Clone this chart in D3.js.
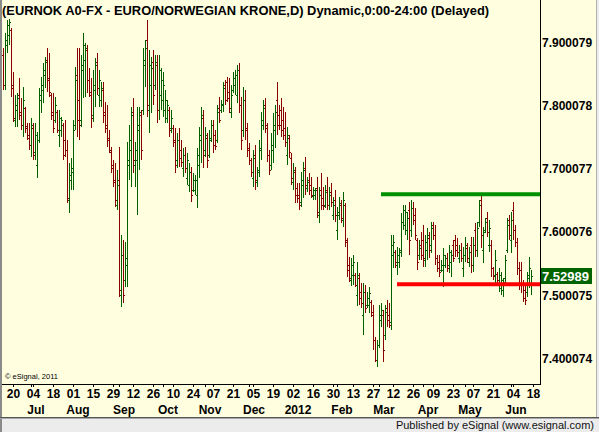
<!DOCTYPE html>
<html>
<head>
<meta charset="utf-8">
<style>
body { margin: 0; background: #ececec; }
svg { display: block; }
text { font-family: "Liberation Sans", Arial, sans-serif; }
</style>
</head>
<body>
<svg width="599" height="432"></svg>
<script src="https://cdnjs.cloudflare.com/ajax/libs/d3/7.8.5/d3.min.js"></script>
<script>

// EUR/NOK daily bars, first bar on 2011-06-13, one bar per weekday
var firstDay = "2011-06-13";

var open = [7.880,7.833,7.896,7.912,7.920,7.833,7.777,7.793,7.817,7.790,
7.769,7.796,7.768,7.754,7.738,7.765,7.727,7.706,7.746,7.809,
7.825,7.849,7.872,7.844,7.817,7.790,7.777,7.790,7.754,7.762,
7.769,7.746,7.730,7.651,7.682,7.695,7.769,7.849,7.809,7.777,
7.856,7.872,7.888,7.841,7.817,7.785,7.825,7.869,7.817,7.809,
7.825,7.790,7.769,7.749,7.727,7.706,7.682,7.643,7.682,7.500,
7.564,7.524,7.548,7.706,7.730,7.790,7.706,7.714,7.762,7.785,
7.793,7.864,7.904,7.793,7.833,7.869,7.833,7.864,7.793,7.817,
7.809,7.793,7.780,7.793,7.765,7.765,7.746,7.714,7.746,7.730,
7.701,7.722,7.685,7.675,7.695,7.667,7.667,7.659,7.706,7.746,
7.780,7.730,7.749,7.722,7.749,7.769,7.754,7.746,7.796,7.793,
7.801,7.833,7.837,7.822,7.790,7.825,7.833,7.817,7.856,7.801,
7.762,7.809,7.765,7.733,7.714,7.685,7.722,7.679,7.698,7.730,
7.769,7.801,7.765,7.722,7.706,7.730,7.762,7.809,7.785,7.793,
7.777,7.765,7.722,7.749,7.717,7.679,7.695,7.670,7.659,7.648,
7.675,7.701,7.670,7.682,7.675,7.657,7.659,7.670,7.627,7.667,
7.654,7.643,7.667,7.643,7.663,7.627,7.651,7.603,7.627,7.643,
7.619,7.643,7.584,7.548,7.524,7.532,7.532,7.500,7.527,7.505,
7.469,7.505,7.485,7.485,7.489,7.469,7.429,7.398,7.421,7.461,
7.469,7.437,7.480,7.469,7.458,7.564,7.568,7.548,7.553,7.572,
7.616,7.611,7.603,7.635,7.603,7.638,7.627,7.588,7.564,7.580,
7.588,7.556,7.572,7.591,7.580,7.611,7.595,7.559,7.553,7.540,
7.540,7.548,7.559,7.548,7.553,7.580,7.588,7.580,7.559,7.572,
7.543,7.564,7.575,7.553,7.580,7.548,7.603,7.572,7.616,7.651,
7.572,7.603,7.622,7.580,7.580,7.543,7.532,7.534,7.516,7.511,
7.508,7.527,7.572,7.619,7.588,7.635,7.603,7.584,7.543,7.540,
7.516,7.508,7.505,7.532,7.516];

var high = [7.891,7.915,7.936,7.937,7.923,7.853,7.817,7.820,7.844,7.812,
7.830,7.798,7.772,7.772,7.780,7.772,7.772,7.758,7.828,7.845,
7.867,7.877,7.891,7.883,7.820,7.820,7.814,7.793,7.793,7.782,
7.772,7.777,7.746,7.709,7.717,7.777,7.861,7.891,7.891,7.880,
7.915,7.899,7.896,7.860,7.844,7.856,7.875,7.883,7.856,7.837,
7.837,7.806,7.801,7.762,7.735,7.714,7.709,7.698,7.735,7.595,
7.588,7.584,7.742,7.769,7.798,7.812,7.742,7.798,7.798,7.793,
7.891,7.904,7.936,7.888,7.877,7.888,7.880,7.880,7.880,7.860,
7.853,7.825,7.809,7.798,7.793,7.769,7.765,7.757,7.765,7.746,
7.733,7.735,7.725,7.709,7.703,7.693,7.690,7.733,7.766,7.798,
7.793,7.766,7.757,7.762,7.777,7.777,7.762,7.801,7.814,7.809,
7.837,7.841,7.845,7.844,7.833,7.853,7.856,7.864,7.867,7.814,
7.830,7.825,7.772,7.741,7.717,7.730,7.738,7.703,7.746,7.790,
7.809,7.812,7.772,7.730,7.757,7.788,7.801,7.837,7.801,7.812,
7.798,7.790,7.766,7.754,7.725,7.709,7.703,7.677,7.677,7.695,
7.711,7.719,7.687,7.693,7.687,7.671,7.670,7.687,7.671,7.693,
7.671,7.674,7.687,7.671,7.677,7.655,7.667,7.640,7.655,7.651,
7.663,7.646,7.591,7.561,7.559,7.564,7.535,7.553,7.535,7.519,
7.519,7.516,7.505,7.513,7.493,7.485,7.434,7.429,7.485,7.488,
7.477,7.485,7.493,7.488,7.595,7.595,7.572,7.576,7.575,7.630,
7.643,7.643,7.632,7.648,7.651,7.648,7.638,7.591,7.588,7.600,
7.611,7.595,7.606,7.600,7.616,7.616,7.611,7.564,7.564,7.556,
7.575,7.564,7.567,7.580,7.572,7.588,7.595,7.591,7.580,7.583,
7.576,7.592,7.583,7.576,7.592,7.592,7.614,7.616,7.651,7.660,
7.608,7.622,7.632,7.619,7.588,7.545,7.572,7.537,7.543,7.537,
7.527,7.564,7.622,7.627,7.632,7.648,7.611,7.591,7.553,7.553,
7.524,7.519,7.537,7.561,7.540];

var low = [7.825,7.825,7.883,7.896,7.814,7.774,7.766,7.766,7.777,7.762,
7.750,7.757,7.746,7.730,7.719,7.714,7.714,7.685,7.741,7.788,
7.804,7.828,7.822,7.814,7.777,7.757,7.772,7.757,7.735,7.750,
7.714,7.719,7.646,7.630,7.667,7.667,7.762,7.750,7.746,7.766,
7.812,7.814,7.820,7.814,7.765,7.774,7.798,7.817,7.798,7.798,
7.772,7.757,7.735,7.725,7.693,7.671,7.640,7.635,7.497,7.481,
7.488,7.513,7.513,7.682,7.671,7.693,7.671,7.627,7.698,7.714,
7.785,7.830,7.782,7.757,7.788,7.801,7.825,7.772,7.777,7.793,
7.782,7.772,7.772,7.750,7.757,7.735,7.693,7.701,7.703,7.703,
7.687,7.693,7.675,7.663,7.648,7.663,7.659,7.638,7.685,7.709,
7.701,7.719,7.701,7.717,7.742,7.725,7.730,7.741,7.772,7.788,
7.790,7.801,7.806,7.788,7.780,7.820,7.817,7.804,7.788,7.730,
7.750,7.746,7.719,7.706,7.687,7.671,7.667,7.671,7.687,7.714,
7.762,7.757,7.711,7.690,7.698,7.709,7.733,7.754,7.762,7.750,
7.746,7.735,7.706,7.717,7.675,7.667,7.646,7.646,7.635,7.640,
7.654,7.659,7.663,7.659,7.654,7.651,7.651,7.622,7.614,7.635,
7.635,7.638,7.635,7.635,7.640,7.619,7.616,7.588,7.619,7.614,
7.608,7.576,7.529,7.521,7.515,7.516,7.513,7.483,7.485,7.480,
7.437,7.472,7.480,7.472,7.466,7.414,7.394,7.387,7.417,7.450,
7.394,7.429,7.450,7.448,7.445,7.543,7.543,7.532,7.543,7.561,
7.603,7.595,7.588,7.564,7.592,7.611,7.588,7.540,7.556,7.556,
7.545,7.545,7.556,7.559,7.567,7.588,7.548,7.537,7.529,7.537,
7.513,7.543,7.537,7.535,7.529,7.553,7.561,7.561,7.551,7.553,
7.529,7.553,7.551,7.545,7.535,7.537,7.561,7.561,7.608,7.575,
7.551,7.598,7.592,7.569,7.529,7.524,7.516,7.519,7.505,7.500,
7.497,7.519,7.567,7.588,7.567,7.588,7.576,7.532,7.508,7.503,
7.489,7.485,7.497,7.511,7.500];

var close = [7.833,7.904,7.928,7.932,7.828,7.780,7.801,7.812,7.785,7.769,
7.809,7.765,7.749,7.738,7.769,7.722,7.754,7.746,7.817,7.833,
7.856,7.869,7.841,7.822,7.785,7.765,7.801,7.762,7.780,7.777,
7.722,7.730,7.654,7.690,7.701,7.762,7.841,7.777,7.769,7.864,
7.896,7.891,7.841,7.822,7.780,7.833,7.864,7.828,7.841,7.828,
7.785,7.765,7.746,7.730,7.701,7.679,7.651,7.675,7.508,7.564,
7.500,7.559,7.714,7.746,7.785,7.714,7.730,7.769,7.790,7.730,
7.872,7.891,7.801,7.864,7.860,7.817,7.869,7.793,7.856,7.841,
7.833,7.809,7.801,7.762,7.780,7.743,7.706,7.746,7.717,7.711,
7.722,7.701,7.714,7.695,7.659,7.682,7.682,7.722,7.754,7.785,
7.722,7.754,7.714,7.746,7.769,7.738,7.736,7.790,7.777,7.803,
7.828,7.809,7.812,7.796,7.817,7.844,7.849,7.856,7.801,7.746,
7.809,7.762,7.730,7.714,7.695,7.717,7.682,7.695,7.733,7.777,
7.796,7.769,7.722,7.698,7.738,7.769,7.790,7.769,7.769,7.762,
7.754,7.743,7.754,7.727,7.685,7.698,7.659,7.654,7.643,7.682,
7.698,7.675,7.679,7.667,7.659,7.667,7.667,7.632,7.659,7.643,
7.641,7.663,7.643,7.659,7.648,7.643,7.627,7.632,7.646,7.622,
7.651,7.588,7.540,7.527,7.548,7.553,7.516,7.532,7.496,7.488,
7.505,7.480,7.496,7.504,7.474,7.429,7.398,7.421,7.469,7.477,
7.414,7.474,7.461,7.453,7.580,7.584,7.553,7.564,7.568,7.616,
7.635,7.632,7.622,7.588,7.638,7.619,7.595,7.553,7.575,7.564,
7.559,7.584,7.595,7.572,7.606,7.595,7.559,7.543,7.537,7.548,
7.564,7.559,7.543,7.569,7.564,7.559,7.572,7.569,7.572,7.559,
7.564,7.580,7.559,7.569,7.548,7.580,7.572,7.606,7.643,7.595,
7.600,7.616,7.600,7.606,7.543,7.530,7.556,7.524,7.532,7.524,
7.521,7.556,7.611,7.595,7.619,7.603,7.584,7.543,7.516,7.516,
7.496,7.493,7.527,7.543,7.52989];

var priceTicks = [7.400074, 7.500075, 7.600076, 7.700077, 7.800078, 7.900079];
var lastPrice = 7.52989;

var dayTicks = ["2011-06-20","2011-07-04","2011-07-18","2011-08-01","2011-08-15","2011-08-29",
  "2011-09-12","2011-09-26","2011-10-10","2011-10-24","2011-11-07","2011-11-21","2011-12-05",
  "2011-12-19","2012-01-02","2012-01-16","2012-01-30","2012-02-13","2012-02-27","2012-03-12",
  "2012-03-26","2012-04-09","2012-04-23","2012-05-07","2012-05-21","2012-06-04","2012-06-18"];
var monthStarts = ["2011-07-01","2011-08-01","2011-09-01","2011-10-03","2011-11-01","2011-12-01",
  "2012-01-02","2012-02-01","2012-03-01","2012-04-02","2012-05-01","2012-06-01"];
var monthNames = ["Jul","Aug","Sep","Oct","Nov","Dec","2012","Feb","Mar","Apr","May","Jun"];

// trend lines drawn on the chart
var resistanceFrom = "2012-03-02", resistanceLevel = 7.660;
var supportFrom = "2012-03-14", supportLevel = 7.5176;

var title = "(EURNOK A0-FX - EURO/NORWEGIAN KRONE,D) Dynamic,0:00-24:00 (Delayed)";

var svg = d3.select("svg"),
    W = 599, H = 432,
    plotRight = 540, axisY = 384;

var parse = d3.utcParse("%Y-%m-%d"),
    start = parse(firstDay);

function tradingIndex(s) {
  return d3.utcDays(start, parse(s)).filter(function(t) {
    var w = t.getUTCDay(); return w > 0 && w < 6;
  }).length;
}

var x = d3.scaleLinear().domain([0, close.length - 1]).range([3, 531]);
var y = d3.scaleLinear().domain([7.400074, 7.900079]).range([358.5, 42.5]);

// frame
svg.append("rect").attr("width", W).attr("height", H).attr("fill", "#ececec");
svg.append("rect").attr("x", 2).attr("y", 0).attr("width", 594).attr("height", 417).attr("fill", "#ffffe0");
svg.append("rect").attr("x", 0).attr("y", 0).attr("width", 2).attr("height", H).attr("fill", "#8a8a8a");
svg.append("line").attr("x1", 596.5).attr("x2", 596.5).attr("y1", 0).attr("y2", 418)
    .attr("stroke", "#b0b0b0");
svg.append("line").attr("x1", 0).attr("x2", W).attr("y1", 417.5).attr("y2", 417.5).attr("stroke", "#555");
svg.append("line").attr("x1", 0).attr("x2", W).attr("y1", 418.5).attr("y2", 418.5).attr("stroke", "#a8a8a8");

svg.append("text")
    .attr("x", 594).attr("y", 428.5)
    .attr("text-anchor", "end")
    .attr("font-size", 11)
    .attr("fill", "#111")
    .text("Published by eSignal (www.esignal.com)");

// axes lines
svg.append("line").attr("x1", plotRight + 0.5).attr("x2", plotRight + 0.5)
    .attr("y1", 0).attr("y2", axisY + 1).attr("stroke", "#000");
svg.append("line").attr("x1", 2).attr("x2", plotRight + 1)
    .attr("y1", axisY + 0.5).attr("y2", axisY + 0.5).attr("stroke", "#000");

// title
svg.append("text")
    .attr("x", 2).attr("y", 15)
    .attr("font-size", 12.9).attr("font-weight", "bold")
    .attr("fill", "#000")
    .text(title);

// price labels on the right
svg.append("g").selectAll("text")
  .data(priceTicks)
  .enter().append("text")
    .attr("x", 542)
    .attr("y", function(d) { return y(d) + 4.3; })
    .attr("font-size", 12).attr("font-weight", "bold")
    .attr("fill", "#000")
    .text(function(d) { return d.toFixed(6); });

// bars
var bars = svg.append("g").attr("shape-rendering", "crispEdges");
var idx = d3.range(close.length);
function barColor(i) { return close[i] >= open[i] ? "#006000" : "#880000"; }

bars.selectAll("line.hl").data(idx).enter().append("line")
    .attr("class", "hl")
    .attr("x1", function(i) { return x(i) + 0.5; })
    .attr("x2", function(i) { return x(i) + 0.5; })
    .attr("y1", function(i) { return y(high[i]); })
    .attr("y2", function(i) { return y(low[i]); })
    .attr("stroke", barColor);

bars.selectAll("line.op").data(idx).enter().append("line")
    .attr("class", "op")
    .attr("x1", function(i) { return x(i) - 1; })
    .attr("x2", function(i) { return x(i); })
    .attr("y1", function(i) { return Math.round(y(open[i])) + 0.5; })
    .attr("y2", function(i) { return Math.round(y(open[i])) + 0.5; })
    .attr("stroke", barColor);

bars.selectAll("line.cl").data(idx).enter().append("line")
    .attr("class", "cl")
    .attr("x1", function(i) { return x(i) + 1; })
    .attr("x2", function(i) { return x(i) + 2; })
    .attr("y1", function(i) { return Math.round(y(close[i])) + 0.5; })
    .attr("y2", function(i) { return Math.round(y(close[i])) + 0.5; })
    .attr("stroke", barColor);

// trend lines
svg.append("line")
    .attr("x1", x(tradingIndex(resistanceFrom))).attr("x2", plotRight)
    .attr("y1", y(resistanceLevel)).attr("y2", y(resistanceLevel))
    .attr("stroke", "#009000").attr("stroke-width", 4);
svg.append("line")
    .attr("x1", x(tradingIndex(supportFrom))).attr("x2", plotRight)
    .attr("y1", y(supportLevel)).attr("y2", y(supportLevel))
    .attr("stroke", "#ff0000").attr("stroke-width", 4);

// last price box
var py = y(lastPrice);
svg.append("rect")
    .attr("x", plotRight + 1).attr("y", Math.round(py) - 8)
    .attr("width", 51).attr("height", 16)
    .attr("fill", "#006400");
svg.append("text")
    .attr("x", plotRight + 2).attr("y", Math.round(py) + 5)
    .attr("font-size", 13).attr("font-weight", "bold")
    .attr("fill", "#fff")
    .text(lastPrice.toFixed(5));

// time axis
var tickG = svg.append("g").attr("shape-rendering", "crispEdges");
tickG.selectAll("line.t").data(dayTicks.concat(monthStarts)).enter().append("line")
    .attr("x1", function(d) { return x(tradingIndex(d)) + 0.5; })
    .attr("x2", function(d) { return x(tradingIndex(d)) + 0.5; })
    .attr("y1", axisY).attr("y2", axisY + 3)
    .attr("stroke", "#000");

svg.append("g").selectAll("text").data(dayTicks).enter().append("text")
    .attr("x", function(d) { return x(tradingIndex(d)) + 0.5; })
    .attr("y", 398)
    .attr("text-anchor", "middle")
    .attr("font-size", 12).attr("font-weight", "bold")
    .attr("fill", "#000")
    .text(function(d) { return d3.utcFormat("%d")(parse(d)); });

svg.append("g").selectAll("text").data(monthStarts).enter().append("text")
    .attr("x", function(d) { return x(tradingIndex(d)) + 5; })
    .attr("y", 414)
    .attr("text-anchor", "middle")
    .attr("font-size", 12).attr("font-weight", "bold")
    .attr("fill", "#000")
    .text(function(d, i) { return monthNames[i]; });

svg.append("text")
    .attr("x", 5).attr("y", 379)
    .attr("font-size", 7.5)
    .attr("fill", "#000")
    .text("\u00a9 eSignal, 2011");

</script>
</body>
</html>
